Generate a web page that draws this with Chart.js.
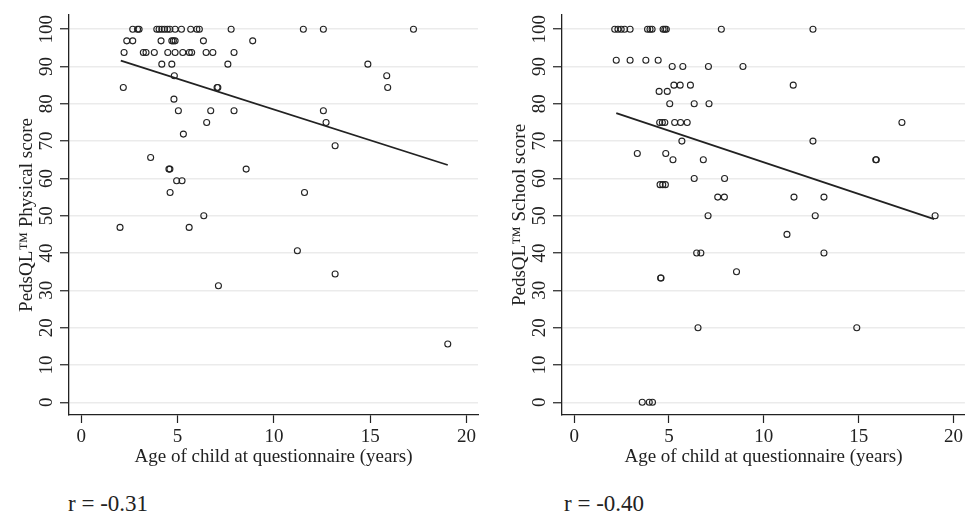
<!DOCTYPE html>
<html>
<head>
<meta charset="utf-8">
<script src="https://cdn.jsdelivr.net/npm/chart.js@4.4.1/dist/chart.umd.min.js"></script>
<style>
  body { margin: 0; background: #fff; width: 970px; height: 515px; position: relative; overflow: hidden; font-family: "Liberation Serif", serif; }
  canvas { position: absolute; top: 0; }
  #physicalChart { left: 0; }
  #schoolChart { left: 490px; }
  .r-note { position: absolute; top: 492px; font-size: 23px; line-height: 23px; color: #222; }
</style>
</head>
<body>
<canvas id="physicalChart" width="485" height="470"></canvas>
<canvas id="schoolChart" width="480" height="470"></canvas>
<div class="r-note" style="left:68px">r = -0.31</div>
<div class="r-note" style="left:564px">r = -0.40</div>
<script>
const xTicks = [0, 5, 10, 15, 20];
const yTicks = [0, 10, 20, 30, 40, 50, 60, 70, 80, 90, 100];

// physical score vs age
const physicalAge = [
    2.67, 2.92, 3.0, 3.92, 4.04, 4.18, 4.32, 4.47, 4.6, 4.87, 5.2, 5.68, 6.0, 6.13, 7.78, 11.53, 12.57, 17.25,
    2.36, 2.67, 4.14, 4.7, 4.78, 4.87, 6.34, 8.9,
    2.22, 3.22, 3.36, 3.79, 4.49, 4.87, 5.27, 5.61, 5.73, 6.48, 6.83, 7.93,
    4.18, 4.7, 7.61, 14.88,
    4.83, 15.86,
    2.18, 7.05, 7.09, 15.91,
    4.81,
    5.04, 6.72, 7.93, 12.57,
    6.51, 12.71,
    5.3, 13.18, 3.6,
    4.55, 4.6, 8.56,
    4.95, 5.23,
    4.61, 11.59,
    6.36,
    2.01, 5.6,
    11.22, 13.18, 7.12, 19.03
];
const physicalScore = [
    100, 100, 100, 100, 100, 100, 100, 100, 100, 100, 100, 100, 100, 100, 100, 100, 100, 100,
    96.875, 96.875, 96.875, 96.875, 96.875, 96.875, 96.875, 96.875,
    93.75, 93.75, 93.75, 93.75, 93.75, 93.75, 93.75, 93.75, 93.75, 93.75, 93.75, 93.75,
    90.625, 90.625, 90.625, 90.625,
    87.5, 87.5,
    84.375, 84.375, 84.375, 84.375,
    81.25,
    78.125, 78.125, 78.125, 78.125,
    75, 75,
    71.875, 68.75, 65.625,
    62.5, 62.5, 62.5,
    59.375, 59.375,
    56.25, 56.25,
    50,
    46.875, 46.875,
    40.625, 34.375, 31.25, 15.625
];
const physicalFitX = [2.05, 19.03];
const physicalFitY = [91.6, 63.6];

// school score vs age
const schoolAge = [
    2.14, 2.31, 2.48, 2.66, 2.95, 3.87, 4.0, 4.11, 4.69, 4.78, 4.86, 7.76, 12.59,
    2.22, 2.95, 3.78, 4.43,
    5.17, 5.73, 7.08, 8.9,
    5.26, 5.59, 6.13, 11.55,
    4.48, 4.91,
    5.04, 6.33, 7.11,
    4.51, 4.65, 4.78, 5.3, 5.61, 5.96, 17.28,
    5.68, 12.59,
    3.33, 4.83,
    5.21, 6.81, 15.9, 15.93,
    6.33, 7.93,
    4.53, 4.67, 4.81,
    7.57, 7.92, 11.59, 13.17,
    7.06, 12.71, 19.03,
    11.22,
    6.46, 6.68, 13.17,
    8.56,
    4.56, 4.58,
    6.53, 14.9,
    3.59, 3.96, 4.13
];
const schoolScore = [
    100, 100, 100, 100, 100, 100, 100, 100, 100, 100, 100, 100, 100,
    91.67, 91.67, 91.67, 91.67,
    90, 90, 90, 90,
    85, 85, 85, 85,
    83.33, 83.33,
    80, 80, 80,
    75, 75, 75, 75, 75, 75, 75,
    70, 70,
    66.67, 66.67,
    65, 65, 65, 65,
    60, 60,
    58.33, 58.33, 58.33,
    55, 55, 55, 55,
    50, 50, 50,
    45,
    40, 40, 40,
    35,
    33.33, 33.33,
    20, 20,
    0, 0, 0
];
const schoolFitX = [2.22, 18.98];
const schoolFitY = [77.5, 49.1];

const ink = '#222';
const font = { family: '"Liberation Serif", "Times New Roman", serif', size: 19 };

function toPoints(xs, ys) {
    return xs.map((x, i) => ({ x: x, y: ys[i] }));
}

function makeChart(id, yTitle, ages, scores, fitX, fitY, axisWidth, titlePad, padRight) {
    return new Chart(document.getElementById(id), {
        type: 'scatter',
        data: {
            datasets: [{
                data: toPoints(ages, scores),
                pointStyle: 'circle',
                pointRadius: 3,
                borderWidth: 1.1,
                borderColor: ink,
                backgroundColor: 'rgba(0,0,0,0)'
            }, {
                type: 'line',
                data: toPoints(fitX, fitY),
                showLine: true,
                borderColor: ink,
                borderWidth: 1.8,
                pointRadius: 0,
                fill: false
            }]
        },
        options: {
            responsive: false,
            animation: false,
            layout: { padding: { top: 15, right: padRight, left: 0, bottom: 0 } },
            plugins: { legend: { display: false }, tooltip: { enabled: false } },
            scales: {
                x: {
                    type: 'linear',
                    min: -0.64,
                    max: 20.6,
                    afterBuildTicks: axis => { axis.ticks = xTicks.map(v => ({ value: v })); },
                    afterFit: axis => { axis.height = 55; },
                    grid: { drawOnChartArea: false, drawTicks: true, tickLength: 8, tickColor: ink, tickWidth: 1.2 },
                    border: { display: true, color: ink, width: 1.3 },
                    ticks: { color: ink, font: font, padding: 3, maxRotation: 0 },
                    title: {
                        display: true,
                        text: 'Age of child at questionnaire (years)',
                        color: ink,
                        font: font,
                        padding: { top: 0, bottom: 2 }
                    }
                },
                y: {
                    min: -3.4,
                    max: 103.8,
                    afterBuildTicks: axis => { axis.ticks = yTicks.map(v => ({ value: v })); },
                    afterFit: axis => { axis.width = axisWidth; },
                    grid: { color: '#ebebeb', lineWidth: 1.5, drawTicks: true, tickLength: 9, tickColor: ink, tickWidth: 1.2 },
                    border: { display: true, color: ink, width: 1.3 },
                    ticks: { color: ink, font: font, padding: -1, minRotation: 90, maxRotation: 90, crossAlign: 'center' },
                    title: {
                        display: true,
                        text: yTitle,
                        color: ink,
                        font: font,
                        padding: { top: titlePad, bottom: 0 }
                    }
                }
            }
        }
    });
}

makeChart('physicalChart', 'PedsQL\u2122 Physical score', physicalAge, physicalScore, physicalFitX, physicalFitY, 69, 15.5, 7);
makeChart('schoolChart', 'PedsQL\u2122 School score', schoolAge, schoolScore, schoolFitX, schoolFitY, 72, 18.5, 0);
</script>
</body>
</html>
